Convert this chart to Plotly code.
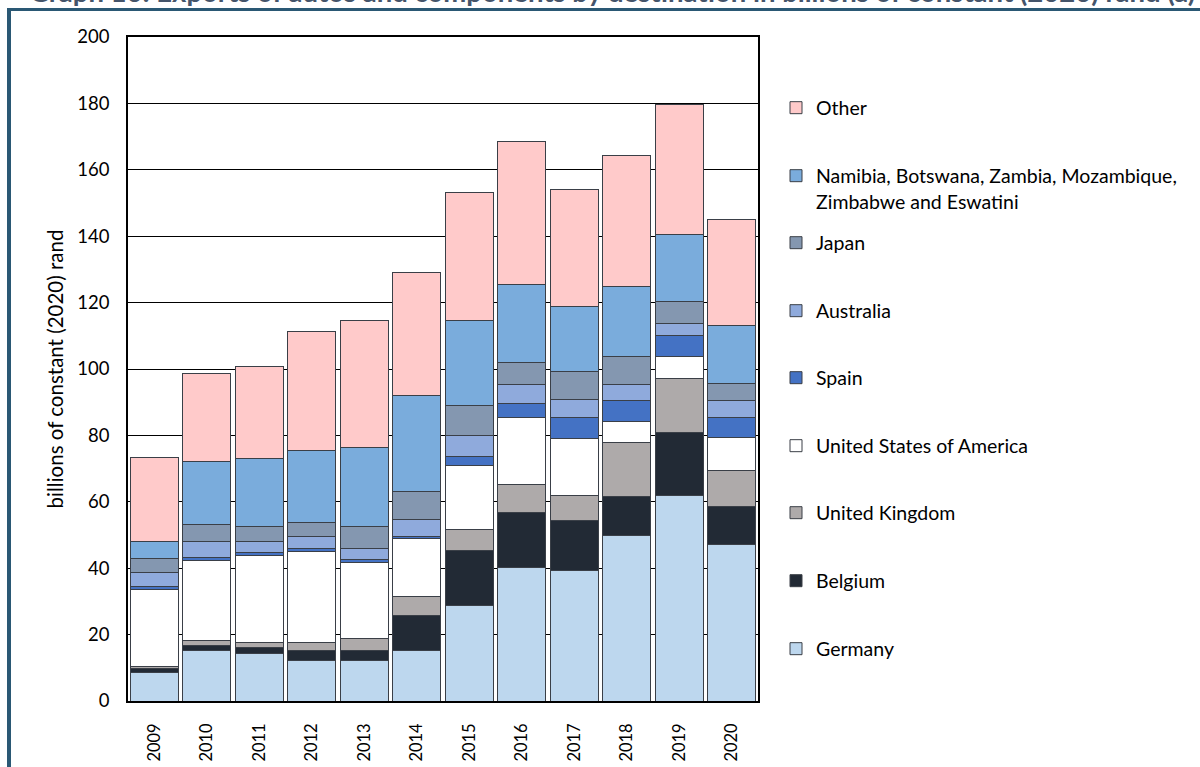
import plotly.graph_objects as go

years = ["2009", "2010", "2011", "2012", "2013", "2014", "2015", "2016", "2017", "2018", "2019", "2020"]

germany = [8.7, 15.2, 14.2, 12.3, 12.1, 15.1, 28.8, 40.1, 39.2, 49.8, 61.9, 47.0]
belgium = [1.0, 1.6, 1.8, 3.0, 3.0, 10.8, 16.4, 16.6, 15.2, 11.8, 18.9, 11.6]
united_kingdom = [0.6, 1.4, 1.7, 2.3, 3.8, 5.6, 6.4, 8.5, 7.6, 16.2, 16.4, 10.9]
usa = [23.4, 24.2, 26.1, 27.3, 22.7, 17.3, 19.4, 20.1, 17.2, 6.3, 6.7, 9.8]
spain = [0.9, 0.8, 0.9, 1.0, 0.9, 0.8, 2.6, 4.2, 6.3, 6.4, 6.2, 6.2]
australia = [4.2, 4.7, 3.2, 3.7, 3.4, 5.2, 6.5, 5.7, 5.3, 4.7, 3.7, 4.9]
japan = [4.2, 5.2, 4.7, 4.2, 6.7, 8.2, 8.9, 6.9, 8.4, 8.6, 6.5, 5.1]
namibia_etc = [5.1, 19.1, 20.3, 21.7, 23.8, 28.9, 25.6, 23.4, 19.7, 21.2, 20.2, 17.7]
other = [25.1, 26.3, 28.0, 35.7, 38.2, 37.2, 38.6, 43.1, 35.2, 39.4, 39.3, 31.9]

series_names = [
    "Germany", "Belgium", "United Kingdom", "United States of America", "Spain",
    "Australia", "Japan", "Namibia, Botswana, Zambia, Mozambique,<br>Zimbabwe and Eswatini", "Other",
]
series_values = [germany, belgium, united_kingdom, usa, spain, australia, japan, namibia_etc, other]
series_colors = ["#BDD7EE", "#222A35", "#AEAAAA", "#FFFFFF", "#4472C4",
                 "#8FAADC", "#8497B0", "#7AACDC", "#FFCACA"]

title_text = "Graph 10: Exports of autos and components by destination in billions of constant (2020) rand (a)"
y_title = "billions of constant (2020) rand"

W, H = 1200, 767
L, R, T, B = 128, 758, 37, 701
FONT = "Lato"

# legend centre rows (pixels from top)
legend_rows = [649, 581, 513, 446, 378, 311, 243, 188.5, 108]

fig = go.Figure()
for i, (name, vals, col) in enumerate(zip(series_names, series_values, series_colors)):
    lg = "legend" if i == 0 else f"legend{i + 1}"
    fig.add_trace(go.Bar(
        x=years, y=vals, name=name, showlegend=True,
        marker=dict(color=col, line=dict(color="#3A3F47", width=1)),
        legend=lg,
    ))

def px2px(x):
    return (x - L) / (R - L)

def py2py(y):
    return (B - y) / (B - T)

layout_legends = {}
for i, row in enumerate(legend_rows):
    key = "legend" if i == 0 else f"legend{i + 1}"
    layout_legends[key] = dict(
        x=(816 - 40) / W, xref="container", xanchor="left",
        y=1 - row / H, yref="container", yanchor="middle",
        bgcolor="rgba(0,0,0,0)", borderwidth=0, visible=True,
        font=dict(family=FONT, size=19.5, color="#000000"),
        valign="top",
    )

frame_col = "#2A5874"
shapes = [
    dict(type="rect", xref="paper", yref="paper",
         x0=px2px(7), x1=px2px(1205), y0=py2py(11), y1=py2py(8),
         fillcolor=frame_col, line=dict(width=0), layer="above"),
    dict(type="rect", xref="paper", yref="paper",
         x0=px2px(7), x1=px2px(11), y0=py2py(770), y1=py2py(8),
         fillcolor=frame_col, line=dict(width=0), layer="above"),
]

fig.update_layout(
    width=W, height=H, showlegend=True,
    margin=dict(l=L, r=W - R, t=T, b=H - B, autoexpand=False),
    paper_bgcolor="white", plot_bgcolor="white",
    barmode="stack", bargap=0.09,
    font=dict(family=FONT, size=18, color="#000000"),
    shapes=shapes,
    annotations=[dict(
        text="<b>" + title_text + "</b>", xref="paper", yref="paper",
        x=px2px(27), y=py2py(10), xanchor="left", yanchor="bottom",
        showarrow=False, font=dict(family=FONT, size=27.5, color="#44546A"),
    )],
    **layout_legends,
)

fig.update_yaxes(
    range=[0, 200], dtick=20, showgrid=True, gridcolor="#000000", gridwidth=1,
    showline=True, linecolor="#000000", linewidth=1.5, mirror=True,
    ticks="", ticklabelstandoff=13, zeroline=False,
    tickfont=dict(family=FONT, size=18.5, color="#000000"),
    title=dict(text=y_title, font=dict(family=FONT, size=20.5, color="#000000"), standoff=8),
)
fig.update_xaxes(
    showline=True, linecolor="#000000", linewidth=1.5, mirror=True,
    tickangle=-90, ticks="", ticklabelstandoff=14,
    tickfont=dict(family=FONT, size=16.5, color="#000000"),
)

fig.write_html("out.html")
